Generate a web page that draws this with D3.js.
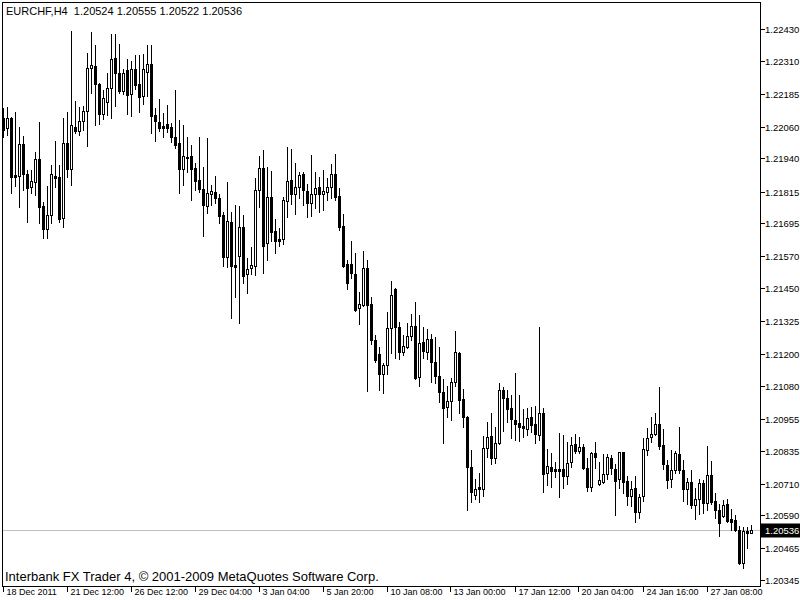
<!DOCTYPE html>
<html><head><meta charset="utf-8">
<script src="https://cdn.jsdelivr.net/npm/d3@7"></script>
<style>html,body{margin:0;padding:0;background:#fff;overflow:hidden}svg{display:block;font-family:"Liberation Sans",Arial,sans-serif}</style>
</head><body><svg id="c" width="800" height="600"></svg>
<script>
const symbol = "EURCHF,H4";
const headerValues = ["1.20524", "1.20555", "1.20522", "1.20536"];
const credit = "Interbank FX Trader 4, \u00A9 2001-2009 MetaQuotes Software Corp.";

const opens = [1.22094,1.22055,1.22092,1.21878,1.21874,1.21995,1.21880,1.21834,1.21852,1.21937,
1.21760,1.21672,1.21725,1.21874,1.21871,1.21714,1.21998,1.21902,1.22058,1.22045,
1.22082,1.22121,1.22282,1.22289,1.22221,1.22108,1.22153,1.22206,1.22319,1.22263,
1.22197,1.22275,1.22183,1.22279,1.22221,1.22178,1.22266,1.22297,1.22105,1.22077,
1.22062,1.22071,1.22058,1.22023,1.22000,1.21901,1.21947,1.21950,1.21903,1.21859,
1.21825,1.21762,1.21806,1.21812,1.21792,1.21726,1.21569,1.21700,1.21537,1.21572,
1.21682,1.21502,1.21527,1.21533,1.21821,1.21903,1.21619,1.21793,1.21666,1.21636,
1.21635,1.21781,1.21859,1.21806,1.21831,1.21880,1.21817,1.21773,1.21806,1.21831,
1.21805,1.21815,1.21831,1.21882,1.21798,1.21685,1.21541,1.21541,1.21503,1.21373,
1.21386,1.21525,1.21390,1.21253,1.21200,1.21124,1.21159,1.21298,1.21445,1.21302,
1.21209,1.21228,1.21269,1.21306,1.21112,1.21245,1.21209,1.21256,1.21169,1.21118,
1.21058,1.21001,1.21023,1.21093,1.21203,1.21029,1.20963,1.20772,1.20666,1.20696,
1.20691,1.20844,1.20890,1.20806,1.20863,1.21064,1.21033,1.20995,1.20951,1.20938,
1.20928,1.20915,1.20961,1.20936,1.20894,1.20976,1.20749,1.20774,1.20764,1.20764,
1.20764,1.20740,1.20791,1.20860,1.20835,1.20850,1.20768,1.20698,1.20827,1.20709,
1.20715,1.20745,1.20806,1.20764,1.20726,1.20829,1.20720,1.20661,1.20692,1.20602,
1.20663,1.20837,1.20885,1.20898,1.20936,1.20856,1.20780,1.20726,1.20762,1.20822,
1.20762,1.20689,1.20715,1.20629,1.20651,1.20713,1.20635,1.20743,1.20645,1.20610,
1.20588,1.20633,1.20575,1.20572,1.20535,1.20411,1.20532,1.20524];

const highs = [1.22130,1.22134,1.22098,1.22117,1.22061,1.22025,1.21897,1.21897,1.21964,1.22078,
1.21777,1.21837,1.21916,1.22008,1.21917,1.22092,1.22115,1.22423,1.22158,1.22134,
1.22139,1.22341,1.22418,1.22370,1.22225,1.22199,1.22263,1.22410,1.22410,1.22372,
1.22279,1.22317,1.22309,1.22332,1.22332,1.22335,1.22370,1.22370,1.22130,1.22165,
1.22111,1.22143,1.22073,1.22199,1.22086,1.22067,1.22023,1.21991,1.21922,1.22023,
1.21909,1.22017,1.21840,1.21874,1.21805,1.21739,1.21852,1.21739,1.21764,1.21760,
1.21726,1.21563,1.21604,1.21865,1.21950,1.21972,1.21907,1.21893,1.21711,1.21678,
1.21793,1.21983,1.21976,1.21924,1.21890,1.21887,1.21844,1.21954,1.21887,1.21869,
1.21897,1.21865,1.21918,1.21957,1.21830,1.21730,1.21556,1.21629,1.21582,1.21436,
1.21591,1.21556,1.21417,1.21272,1.21228,1.21167,1.21360,1.21477,1.21450,1.21323,
1.21272,1.21317,1.21351,1.21396,1.21348,1.21304,1.21295,1.21276,1.21266,1.21226,
1.21105,1.21079,1.21109,1.21288,1.21207,1.21068,1.20965,1.20837,1.20726,1.20749,
1.20890,1.20942,1.20976,1.20923,1.21090,1.21077,1.21064,1.21045,1.21130,1.21045,
1.20991,1.20995,1.20999,1.21004,1.21302,1.20995,1.20840,1.20825,1.20793,1.20900,
1.20894,1.20869,1.20888,1.20898,1.20888,1.20860,1.20806,1.20831,1.20869,1.20793,
1.20822,1.20822,1.20818,1.20784,1.20831,1.20831,1.20739,1.20721,1.20739,1.20670,
1.20881,1.20919,1.20963,1.20978,1.21074,1.20915,1.20799,1.20837,1.20835,1.20925,
1.20799,1.20730,1.20762,1.20692,1.20726,1.20724,1.20853,1.20796,1.20673,1.20632,
1.20648,1.20651,1.20613,1.20591,1.20550,1.20547,1.20547,1.20555];

const lows = [1.22020,1.22029,1.21809,1.21837,1.21758,1.21821,1.21701,1.21809,1.21802,1.21695,
1.21638,1.21638,1.21695,1.21834,1.21701,1.21680,1.21871,1.21840,1.22036,1.22029,
1.22048,1.21988,1.22187,1.22067,1.22072,1.22090,1.22105,1.22092,1.22140,1.22189,
1.22184,1.22109,1.22102,1.22203,1.22117,1.22147,1.22178,1.22038,1.22006,1.22044,
1.22023,1.22039,1.22002,1.21979,1.21811,1.21840,1.21890,1.21783,1.21821,1.21815,
1.21648,1.21733,1.21764,1.21771,1.21697,1.21535,1.21531,1.21336,1.21415,1.21317,
1.21468,1.21432,1.21502,1.21499,1.21758,1.21508,1.21556,1.21629,1.21584,1.21609,
1.21617,1.21720,1.21768,1.21730,1.21790,1.21764,1.21720,1.21723,1.21754,1.21739,
1.21745,1.21783,1.21790,1.21783,1.21670,1.21531,1.21445,1.21487,1.21364,1.21314,
1.21383,1.21062,1.21238,1.21171,1.21064,1.21052,1.21125,1.21205,1.21184,1.21180,
1.21197,1.21222,1.21253,1.21105,1.21079,1.21184,1.21180,1.21096,1.21092,1.21020,
1.20863,1.20963,1.20951,1.21079,1.20978,1.20925,1.20608,1.20642,1.20651,1.20642,
1.20661,1.20812,1.20784,1.20789,1.20860,1.20910,1.20944,1.20881,1.20875,1.20872,
1.20885,1.20894,1.20906,1.20865,1.20875,1.20679,1.20705,1.20698,1.20736,1.20658,
1.20692,1.20709,1.20774,1.20827,1.20825,1.20764,1.20683,1.20683,1.20768,1.20705,
1.20711,1.20726,1.20746,1.20591,1.20695,1.20673,1.20629,1.20625,1.20566,1.20579,
1.20645,1.20818,1.20869,1.20894,1.20841,1.20764,1.20692,1.20696,1.20751,1.20751,
1.20645,1.20633,1.20619,1.20576,1.20595,1.20600,1.20610,1.20633,1.20579,1.20513,
1.20582,1.20566,1.20535,1.20532,1.20406,1.20390,1.20465,1.20522];

const closes = [1.22048,1.22092,1.21871,1.21871,1.21994,1.21880,1.21830,1.21855,1.21937,1.21758,
1.21672,1.21725,1.21880,1.21868,1.21711,1.21998,1.21902,1.22066,1.22045,1.22082,
1.22121,1.22282,1.22293,1.22221,1.22108,1.22168,1.22206,1.22316,1.22263,1.22197,
1.22263,1.22181,1.22278,1.22218,1.22174,1.22278,1.22297,1.22102,1.22083,1.22057,
1.22057,1.22057,1.22023,1.21991,1.21901,1.21950,1.21941,1.21901,1.21856,1.21826,
1.21764,1.21809,1.21817,1.21790,1.21724,1.21566,1.21704,1.21535,1.21529,1.21682,
1.21497,1.21522,1.21537,1.21821,1.21903,1.21609,1.21796,1.21663,1.21629,1.21629,
1.21783,1.21856,1.21806,1.21831,1.21878,1.21821,1.21773,1.21806,1.21828,1.21805,
1.21817,1.21832,1.21882,1.21796,1.21682,1.21533,1.21470,1.21508,1.21367,1.21390,
1.21525,1.21386,1.21253,1.21178,1.21124,1.21159,1.21298,1.21424,1.21302,1.21209,
1.21231,1.21269,1.21306,1.21109,1.21241,1.21213,1.21256,1.21169,1.21118,1.21058,
1.20997,1.21023,1.21093,1.21207,1.21026,1.20963,1.20772,1.20679,1.20689,1.20691,
1.20844,1.20888,1.20806,1.20863,1.21064,1.21033,1.20992,1.20953,1.20934,1.20923,
1.20919,1.20957,1.20931,1.20897,1.20976,1.20746,1.20777,1.20759,1.20759,1.20759,
1.20740,1.20787,1.20856,1.20835,1.20847,1.20768,1.20698,1.20825,1.20812,1.20724,
1.20745,1.20810,1.20768,1.20721,1.20829,1.20717,1.20661,1.20690,1.20602,1.20658,
1.20840,1.20881,1.20898,1.20936,1.20853,1.20783,1.20724,1.20762,1.20825,1.20762,
1.20689,1.20715,1.20629,1.20651,1.20713,1.20635,1.20743,1.20642,1.20610,1.20562,
1.20629,1.20569,1.20566,1.20535,1.20411,1.20532,1.20522,1.20536];

const timeTickIndex = [0,16,32,48,64,80,96,112,128,144,160,176];
const timeTickLabels = ["18 Dec 2011","21 Dec 12:00","26 Dec 12:00","29 Dec 04:00","3 Jan 04:00","5 Jan 20:00",
  "10 Jan 08:00","13 Jan 00:00","17 Jan 12:00","20 Jan 04:00","24 Jan 16:00","27 Jan 08:00"];
const priceTicks = [1.22430,1.22310,1.22185,1.22060,1.21940,1.21815,1.21695,1.21570,1.21450,
  1.21325,1.21200,1.21080,1.20955,1.20835,1.20710,1.20590,1.20465,1.20345];
const lastPrice = 1.20536;

const svg = d3.select("#c");
const n = opens.length;
const x = d3.scaleLinear().domain([0, n - 1]).range([3.5, 3.5 + 4 * (n - 1)]);
const y = d3.scaleLinear().domain([1.20345, 1.22430]).range([580, 29]);
const ry = v => Math.round(y(v));

const plotL = 2.5, plotR = 760.5, plotT = 2.5, plotB = 586.5;

// last price line
svg.append("line").attr("x1", plotL).attr("x2", plotR)
  .attr("y1", ry(lastPrice) + 0.5).attr("y2", ry(lastPrice) + 0.5)
  .attr("stroke", "#C0C0C0").attr("stroke-width", 1);

// candles
const data = d3.range(n).map(i => ({i, o: opens[i], h: highs[i], l: lows[i], c: closes[i]}));
const g = svg.append("g").attr("shape-rendering", "crispEdges");
const cg = g.selectAll("g.cd").data(data).join("g").attr("class", "cd");
cg.append("line")
  .attr("x1", d => x(d.i)).attr("x2", d => x(d.i))
  .attr("y1", d => ry(d.h)).attr("y2", d => ry(d.l) + 1)
  .attr("stroke", "#000").attr("stroke-width", 1);
cg.append("rect")
  .attr("x", d => x(d.i) - 1).attr("width", 2)
  .attr("y", d => ry(Math.max(d.o, d.c)) + 0.5)
  .attr("height", d => Math.max(0, ry(Math.min(d.o, d.c)) - ry(Math.max(d.o, d.c))))
  .attr("fill", d => d.c > d.o ? "#fff" : "#000")
  .attr("stroke", "#000").attr("stroke-width", 1);

// frame
svg.append("rect").attr("x", plotL).attr("y", plotT)
  .attr("width", plotR - plotL).attr("height", plotB - plotT)
  .attr("fill", "none").attr("stroke", "#000").attr("stroke-width", 1)
  .attr("shape-rendering", "crispEdges");

// price axis
const pa = svg.append("g");
priceTicks.forEach(p => {
  const yy = ry(p) + 0.5;
  pa.append("line").attr("x1", plotR).attr("x2", plotR + 4).attr("y1", yy).attr("y2", yy)
    .attr("stroke", "#000").attr("shape-rendering", "crispEdges");
  pa.append("text").attr("x", 765).attr("y", yy).attr("dy", "0.35em")
    .attr("font-size", "9.5px").attr("fill", "#000").text(p.toFixed(5));
});
// last price label
const ly = ry(lastPrice) + 0.5;
pa.append("rect").attr("x", 761).attr("y", ly - 7).attr("width", 39).attr("height", 14).attr("fill", "#000");
pa.append("text").attr("x", 765).attr("y", ly).attr("dy", "0.35em")
  .attr("font-size", "9.5px").attr("fill", "#fff").text(lastPrice.toFixed(5));

// time axis
const ta = svg.append("g");
timeTickIndex.forEach((ti, k) => {
  const xx = Math.round(x(ti)) - 0.5;
  ta.append("line").attr("x1", xx).attr("x2", xx).attr("y1", plotB).attr("y2", plotB + 5)
    .attr("stroke", "#000").attr("shape-rendering", "crispEdges");
  ta.append("text").attr("x", xx + 3).attr("y", 595)
    .attr("font-size", "9px").attr("fill", "#000").text(timeTickLabels[k]);
});

// header
svg.append("text").attr("x", 6).attr("y", 15).attr("font-size", "11px").attr("fill", "#000")
  .attr("xml:space", "preserve")
  .text(symbol + "  " + headerValues.join(" "));

// credit
svg.append("text").attr("x", 5).attr("y", 581).attr("font-size", "13px").attr("fill", "#000").text(credit);
</script></body></html>
